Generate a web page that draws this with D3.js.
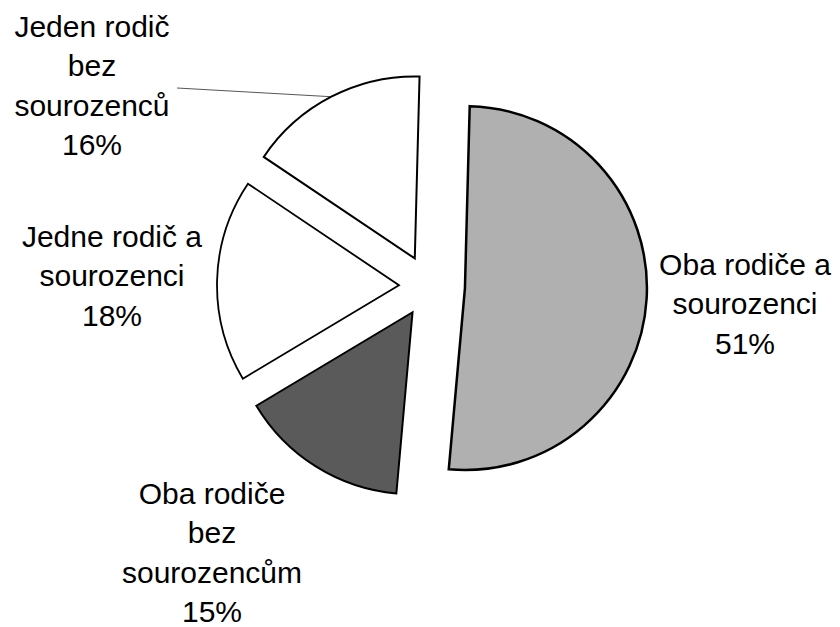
<!DOCTYPE html>
<html>
<head>
<meta charset="utf-8">
<script src="https://cdn.jsdelivr.net/npm/d3@7"></script>
<style>
  html, body { margin: 0; padding: 0; background: #ffffff; }
  svg { display: block; }
</style>
</head>
<body>
<svg id="chart" width="840" height="627"></svg>
<script>
// ---- data ----
const categories = [
  "Oba rodiče a sourozenci",
  "Oba rodiče bez sourozencům",
  "Jedne rodič a sourozenci",
  "Jeden rodič bez sourozenců"
];
const values = [51, 15, 18, 16];
const labelLines = [
  ["Oba rodiče a", "sourozenci"],
  ["Oba rodiče", "bez", "sourozencům"],
  ["Jedne rodič a", "sourozenci"],
  ["Jeden rodič", "bez", "sourozenců"]
];
const fills = ["#b0b0b0", "#5a5a5a", "#ffffff", "#ffffff"];

// ---- layout ----
const W = 840, H = 627;
const cx = 429, cy = 286, R = 182;
const explode = [36, 31, 30, 31];
const strokeW = [2.5, 2, 1.8, 2];
const rot = 1.5 * Math.PI / 180;
const labelPos = [
  {x: 745, y: 275},
  {x: 212, y: 504},
  {x: 112, y: 247},
  {x: 92,  y: 37}
];
const lineGap = 39.3;

const svg = d3.select("#chart");
const pie = d3.pie().sort(null).value(d => d.v).startAngle(rot).endAngle(rot + 2 * Math.PI);
const data = pie(values.map((v, i) => ({v, i})));
const arc = d3.arc().innerRadius(0).outerRadius(R);

const g = svg.append("g").attr("transform", `translate(${cx},${cy})`);

// leader line for the top-left label
const s4 = data[3];
const m4 = (s4.startAngle + s4.endAngle) / 2;
const ox4 = Math.sin(m4) * explode[3], oy4 = -Math.cos(m4) * explode[3];
g.append("line")
  .attr("x1", 177 - cx).attr("y1", 88 - cy)
  .attr("x2", ox4 + Math.sin(m4) * R).attr("y2", oy4 - Math.cos(m4) * R)
  .attr("stroke", "#555").attr("stroke-width", 1);

g.selectAll("path.slice")
  .data(data)
  .enter().append("path")
  .attr("class", "slice")
  .attr("transform", d => {
    const m = (d.startAngle + d.endAngle) / 2;
    const e = explode[d.data.i];
    return `translate(${Math.sin(m) * e},${-Math.cos(m) * e})`;
  })
  .attr("d", arc)
  .attr("fill", d => fills[d.data.i])
  .attr("stroke", "#000")
  .attr("stroke-width", d => strokeW[d.data.i])
  .attr("stroke-linejoin", "miter");

// labels
data.forEach(d => {
  const i = d.data.i;
  const lines = labelLines[i].concat([values[i] + "%"]);
  const t = svg.append("text")
    .attr("x", labelPos[i].x).attr("y", labelPos[i].y)
    .attr("text-anchor", "middle")
    .attr("font-family", "Liberation Sans, Arial, sans-serif")
    .attr("font-size", 30)
    .attr("fill", "#000");
  lines.forEach((ln, k) => {
    t.append("tspan")
      .attr("x", labelPos[i].x)
      .attr("y", labelPos[i].y + k * lineGap)
      .text(ln);
  });
});
</script>
</body>
</html>
